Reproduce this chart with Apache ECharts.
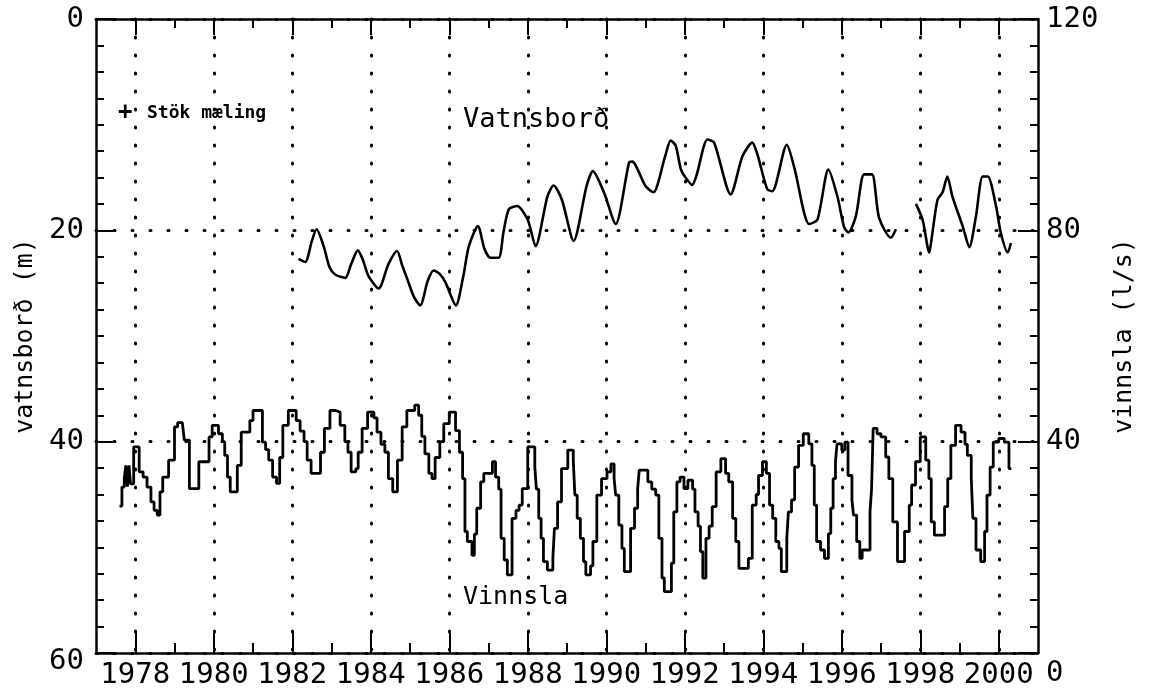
<!DOCTYPE html>
<html>
<head>
<meta charset="utf-8">
<script src="https://cdn.jsdelivr.net/npm/echarts@6/dist/echarts.min.js"></script>
<style>
html,body{margin:0;padding:0;background:#fff;}
#chart{width:1151px;height:693px;}
</style>
</head>
<body>
<div id="chart"></div>
<script>
// ---- tick labels ----
const majorYears = [1978,1980,1982,1984,1986,1988,1990,1992,1994,1996,1998,2000];
const minorYears = [1979,1981,1983,1985,1987,1989,1991,1993,1995,1997,1999];

// ---- Vatnsborð (m, depth to water level); null = gap ----
const levelYears = [1982.16,1982.33,1982.5,1982.62,1982.8,1982.95,1983.1,1983.35,1983.5,1983.67,1983.8,1983.94,
  1984.2,1984.45,1984.67,1984.8,1984.92,1985.1,1985.26,1985.45,1985.6,1985.75,1985.9,1986.17,1986.35,1986.5,
  1986.73,1986.9,1987.05,1987.26,1987.38,1987.52,1987.73,1988.0,1988.2,1988.5,1988.66,1988.87,1989.17,1989.5,
  1989.66,1989.94,1990.24,1990.58,1990.66,1991.0,1991.2,1991.5,1991.64,1991.77,1991.9,1992.0,1992.19,1992.3,
  1992.58,1992.75,1993.17,1993.47,1993.72,1993.85,1994.1,1994.23,1994.6,1994.8,1995.17,1995.38,1995.66,1995.89,
  1996.06,1996.17,1996.36,1996.57,1996.77,1996.95,1997.25,1997.38,
  1997.6,
  1997.89,1998.06,1998.23,1998.3,1998.44,1998.57,1998.69,1998.82,1999.08,1999.25,1999.42,1999.59,1999.72,
  1999.93,2000.05,2000.23,2000.31];
const levelValues = [22.7,23.0,21.0,19.9,21.5,23.5,24.2,24.5,23.2,21.9,22.8,24.3,
  25.5,23.2,21.95,23.3,24.5,26.3,27.1,24.8,23.8,24.1,24.9,27.1,24.5,21.5,
  19.6,21.8,22.6,22.6,20.2,18.0,17.7,19.0,21.5,16.8,15.75,17.1,21.0,15.8,
  14.4,16.4,19.4,13.6,13.5,15.8,16.4,13.0,11.5,12.0,14.2,14.9,15.7,14.8,
  11.4,11.7,16.6,13.0,11.7,12.8,16.1,16.3,11.9,14.2,19.4,19.0,14.25,16.8,
  19.7,20.2,18.65,14.7,14.7,18.8,20.7,19.9,
  null,
  17.5,19.0,22.1,20.5,17.1,16.4,14.9,16.8,19.6,21.6,18.65,14.9,14.9,
  17.7,20.2,22.1,21.2];

// ---- Vinnsla (l/s), step values starting at each year mark ----
const pumpYears = [1977.6,1977.66,1977.72,1977.76,1977.8,1977.84,1977.88,1977.96,1978.1,1978.2,1978.3,1978.4,1978.48,
  1978.56,1978.63,1978.7,1978.85,1979.0,1979.08,1979.2,1979.25,1979.38,1979.62,1979.88,1979.96,1980.12,1980.22,
  1980.28,1980.35,1980.42,1980.6,1980.7,1980.92,1981.0,1981.24,1981.32,1981.4,1981.5,1981.6,1981.68,1981.76,
  1981.9,1982.1,1982.2,1982.3,1982.38,1982.48,1982.72,1982.82,1982.96,1983.1,1983.22,1983.34,1983.42,1983.5,
  1983.62,1983.68,1983.78,1983.92,1984.08,1984.16,1984.26,1984.36,1984.45,1984.56,1984.68,1984.8,1984.92,
  1985.12,1985.22,1985.3,1985.38,1985.48,1985.56,1985.64,1985.76,1985.86,1986.0,1986.16,1986.26,1986.34,
  1986.4,1986.46,1986.58,1986.64,1986.7,1986.8,1986.88,1987.1,1987.18,1987.26,1987.32,1987.4,1987.48,1987.6,
  1987.7,1987.78,1987.86,1988.0,1988.18,1988.22,1988.28,1988.34,1988.4,1988.5,1988.64,1988.68,1988.76,
  1988.86,1989.02,1989.16,1989.2,1989.26,1989.34,1989.42,1989.48,1989.6,1989.66,1989.76,1989.88,1990.02,
  1990.12,1990.2,1990.24,1990.32,1990.4,1990.46,1990.62,1990.72,1990.8,1990.84,1991.06,1991.16,1991.26,
  1991.34,1991.42,1991.48,1991.66,1991.72,1991.8,1991.88,1991.98,1992.08,1992.2,1992.26,1992.34,1992.4,
  1992.46,1992.54,1992.62,1992.7,1992.8,1992.92,1993.04,1993.12,1993.22,1993.3,1993.38,1993.62,1993.72,
  1993.82,1993.88,1993.98,1994.08,1994.16,1994.24,1994.32,1994.4,1994.46,1994.6,1994.64,1994.72,1994.8,
  1994.9,1995.02,1995.16,1995.24,1995.3,1995.36,1995.46,1995.56,1995.66,1995.72,1995.78,1995.84,1995.88,
  1996.0,1996.08,1996.16,1996.26,1996.3,1996.38,1996.46,1996.52,1996.72,1996.76,1996.8,1996.9,1997.0,
  1997.12,1997.2,1997.3,1997.42,1997.6,1997.72,1997.78,1997.88,1998.0,1998.14,1998.22,1998.28,1998.36,
  1998.62,1998.7,1998.78,1998.9,1999.04,1999.14,1999.2,1999.3,1999.34,1999.42,1999.54,1999.64,1999.7,
  1999.78,1999.86,2000.0,2000.14,2000.26,2000.32];
const pumpValues = [27.8,31.4,33.0,35.5,31.5,35.5,32.0,39.0,34.3,33.3,31.4,28.6,27.0,
  26.1,30.5,33.3,36.5,42.8,43.6,43.4,40.3,31.1,36.2,40.9,43.1,41.5,40.0,
  37.4,33.3,30.5,35.5,41.8,44.0,45.9,39.9,38.5,36.5,33.3,32.1,37.0,43.1,
  45.9,44.0,42.0,40.0,36.5,34.0,38.0,42.5,45.9,45.6,43.1,40.0,38.0,34.3,
  34.9,38.0,42.5,45.6,44.5,41.8,39.5,38.0,33.0,30.5,36.5,42.8,45.9,
  46.9,45.0,41.0,37.7,34.0,33.0,37.0,40.0,43.4,45.6,42.1,38.0,33.0,
  23.0,21.1,18.5,22.5,27.4,32.4,34.0,36.2,33.3,31.0,21.7,17.6,14.8,25.5,
  27.0,28.0,31.1,39.0,35.2,31.0,25.5,21.7,17.3,15.7,18.0,23.6,28.6,
  34.9,38.4,36.5,29.9,25.5,21.7,17.3,14.8,16.5,21.1,29.9,33.0,34.3,
  35.8,33.0,29.9,24.2,19.8,15.4,23.6,27.4,31.0,34.6,32.4,31.0,29.9,
  21.7,14.2,11.6,17.0,26.7,32.4,33.3,31.1,32.7,31.0,26.7,24.0,19.2,
  14.2,21.7,24.0,27.7,34.3,36.8,34.0,32.4,25.5,21.1,16.0,17.9,28.0,
  30.0,33.6,36.2,34.0,28.0,25.5,21.1,19.8,15.4,21.7,26.7,29.0,35.2,
  39.3,41.5,39.6,35.5,28.0,21.1,19.5,17.9,22.6,27.4,33.0,36.2,39.6,
  38.4,39.9,33.6,29.0,26.1,21.1,17.9,19.5,26.7,31.1,42.5,41.5,40.9,
  37.1,33.0,24.8,17.3,23.0,28.0,31.8,36.2,40.9,36.5,33.0,24.8,22.3,
  27.7,33.0,39.3,43.1,41.8,39.5,37.4,33.0,25.5,19.5,17.3,23.0,29.9,
  35.2,39.9,40.6,39.9,34.9,34.9];

const levelData = levelYears.map((x, i) => [x, levelValues[i] === null ? '-' : levelValues[i]]);
const pumpData = pumpYears.map((x, i) => [x, pumpValues[i]]);

const FONT = 'DejaVu Sans Mono';
const INK = '#000';
const dotted = { color: INK, width: 3, type: [1, 17], cap: 'round' };

function xAx(pos, custom, len, showLabel, showSplit, showLine) {
  return {
    type: 'value', position: pos, min: 1977, max: 2001,
    axisLine: { show: showLine, onZero: false, lineStyle: { color: INK, width: 2.5 } },
    axisTick: { show: true, inside: true, length: len, customValues: custom, lineStyle: { color: INK, width: 2 } },
    axisLabel: { show: showLabel, customValues: custom, color: INK, fontFamily: FONT, fontSize: 29, margin: 8,
      formatter: v => String(v) },
    splitLine: { show: showSplit, lineStyle: dotted },
    minorTick: { show: false }
  };
}

const chart = echarts.init(document.getElementById('chart'), null, { renderer: 'canvas' });
chart.setOption({
  animation: false,
  backgroundColor: '#fff',
  grid: { left: 96, right: 113, top: 19, bottom: 40, containLabel: false },
  xAxis: [
    xAx('bottom', majorYears, 22, true, true, true),
    xAx('bottom', minorYears, 10, false, false, false),
    xAx('top', majorYears, 16, false, false, true),
    xAx('top', minorYears, 9, false, false, false)
  ],
  yAxis: [
    {
      type: 'value', position: 'left', inverse: true, min: 0, max: 60, interval: 20,
      name: 'vatnsborð (m)', nameLocation: 'middle', nameRotate: 90, nameGap: 58,
      nameTextStyle: { color: INK, fontFamily: FONT, fontSize: 25 },
      axisLine: { show: true, onZero: false, lineStyle: { color: INK, width: 2.5 } },
      axisTick: { show: true, inside: true, length: 20, lineStyle: { color: INK, width: 2 } },
      minorTick: { show: true, splitNumber: 8, length: 8, lineStyle: { color: INK, width: 2 } },
      axisLabel: { color: INK, fontFamily: FONT, fontSize: 29, margin: 12,
        formatter: v => v === 60 ? '{lo|60}' : String(v),
        rich: { lo: { fontFamily: FONT, fontSize: 29, color: INK, padding: [16, 0, 0, 0] } } },
      splitLine: { show: true, lineStyle: dotted }
    },
    {
      type: 'value', position: 'right', min: 0, max: 120, interval: 40,
      name: 'vinnsla (l/s)', nameLocation: 'middle', nameRotate: 90, nameGap: 74,
      nameTextStyle: { color: INK, fontFamily: FONT, fontSize: 25 },
      axisLine: { show: true, onZero: false, lineStyle: { color: INK, width: 2.5 } },
      axisTick: { show: true, inside: true, length: 20, lineStyle: { color: INK, width: 2 } },
      minorTick: { show: true, splitNumber: 8, length: 8, lineStyle: { color: INK, width: 2 } },
      axisLabel: { color: INK, fontFamily: FONT, fontSize: 29, margin: 8,
        formatter: v => v === 0 ? '{lo|0}' : String(v),
        rich: { lo: { fontFamily: FONT, fontSize: 29, color: INK, padding: [40, 0, 0, 0] } } },
      splitLine: { show: false }
    }
  ],
  series: [
    {
      name: 'Vatnsborð', type: 'line', xAxisIndex: 0, yAxisIndex: 0,
      data: levelData, showSymbol: false, symbol: 'none', smooth: 0.25, connectNulls: false,
      lineStyle: { color: INK, width: 2.6 }, z: 5
    },
    {
      name: 'Vinnsla', type: 'line', xAxisIndex: 0, yAxisIndex: 1, step: 'end',
      data: pumpData, showSymbol: false, symbol: 'none',
      lineStyle: { color: INK, width: 2.8 }, z: 5
    }
  ],
  graphic: [
    { type: 'text', left: 463, top: 106, style: { text: 'Vatnsborð', fill: INK, font: '27px "DejaVu Sans Mono"' } },
    { type: 'text', left: 463, top: 585, style: { text: 'Vinnsla', fill: INK, font: '25px "DejaVu Sans Mono"' } },
    { type: 'text', left: 118, top: 101, style: { text: '+', fill: INK, font: 'bold 24px "DejaVu Sans Mono"' } },
    { type: 'text', left: 147, top: 104, style: { text: 'Stök mæling', fill: INK, font: 'bold 18px "DejaVu Sans Mono"' } }
  ]
});
</script>
</body>
</html>
